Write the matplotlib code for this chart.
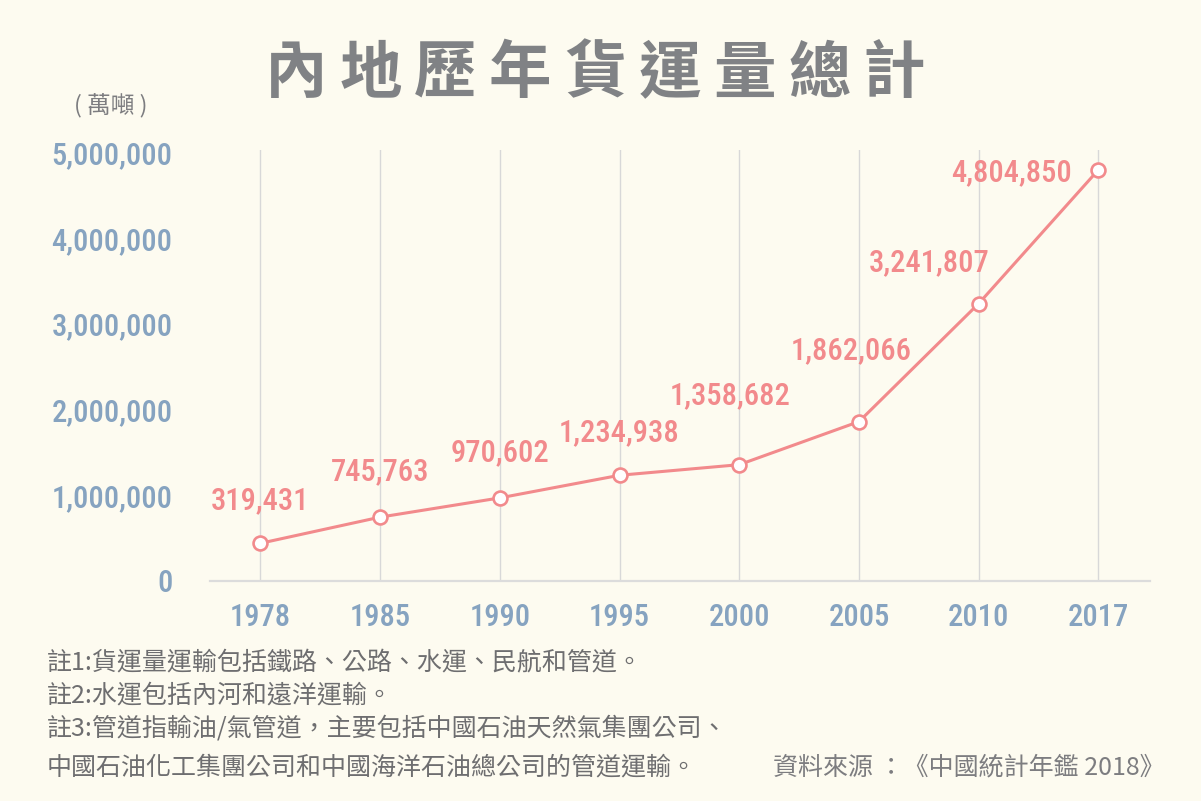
import numpy as np
import matplotlib.pyplot as plt

# datos
years = ['1978', '1985', '1990', '1995', '2000', '2005', '2010', '2017']
# posicion dibujada (el punto de 1978 en el original no cae en su valor)
plot_values = [440000, 745763, 970602, 1234938, 1358682, 1862066, 3241807, 4804850]
value_labels = ['319,431', '745,763', '970,602', '1,234,938', '1,358,682',
                '1,862,066', '3,241,807', '4,804,850']
yticks = [0, 1000000, 2000000, 3000000, 4000000, 5000000]
ytick_labels = ['0', '1,000,000', '2,000,000', '3,000,000', '4,000,000', '5,000,000']

title = '內地歷年貨運量總計'
notes = ['註1:貨運量運輸包括鐵路、公路、水運、民航和管道。',
         '註2:水運包括內河和遠洋運輸。',
         '註3:管道指輸油/氣管道，主要包括中國石油天然氣集團公司、',
         '中國石油化工集團公司和中國海洋石油總公司的管道運輸。']
source = '資料來源 ：《中國統計年鑑 2018》'

bg = '#fdfbf0'
pink = '#f28a8c'
blue = '#86a3c0'
gray = '#7d7d80'
num_font = ['Roboto Condensed', 'Roboto', 'DejaVu Sans']
cjk_font = ['Noto Sans CJK TC', 'DejaVu Sans']

fig = plt.figure(figsize=(12.01, 8.01), dpi=100, facecolor=bg)
ax = fig.add_axes([0.1749, 0.2747, 0.9575 - 0.1749, 0.8127 - 0.2747])
ax.set_facecolor(bg)

x = np.arange(len(years))
ax.plot(x, plot_values, color=pink, lw=2.2, marker='o', ms=10,
        mfc='white', mec=pink, mew=1.9, zorder=3, clip_on=False)

# desplazamientos de las etiquetas (en pixeles, se pasan a puntos)
offsets_px = [(0, 43), (0, 45), (0, 45), (0, 43), (-9, 69), (-8, 71), (-50, 41), (-87, -3)]
for i, (lab, off) in enumerate(zip(value_labels, offsets_px)):
    ax.annotate(lab, (x[i], plot_values[i]), xytext=(off[0] * 0.72, off[1] * 0.72),
                textcoords='offset points', ha='center', va='center', color=pink,
                fontsize=22, fontweight='medium', family=num_font)

ax.set_xlim(-0.42, 7.43)
ax.set_ylim(0, 5035000)
ax.set_xticks(x)
ax.set_xticklabels(years)
ax.set_yticks(yticks)
ax.set_yticklabels(ytick_labels)
ax.tick_params(length=0, colors=blue, labelsize=22)
ax.tick_params(axis='x', pad=16)
ax.tick_params(axis='y', pad=27)
for t in ax.get_xticklabels() + ax.get_yticklabels():
    t.set_family(num_font)
    t.set_fontweight('medium')

ax.grid(axis='x', color='#d8d8d8', lw=1)
ax.grid(axis='y', visible=False)
for s in ['top', 'right', 'left']:
    ax.spines[s].set_visible(False)
ax.spines['bottom'].set_color('#dcdcdc')
ax.spines['bottom'].set_linewidth(1.6)

# titulo, letra por letra
for k, ch in enumerate(title):
    fig.text((296 + k * 74.75) / 1201, 1 - 74 / 801, ch, ha='center', va='center',
             fontsize=45, fontweight='black', color='#808285', family=cjk_font)

fig.text(111 / 1201, 1 - 106 / 801, '( 萬噸 )', ha='center', va='center',
         fontsize=17, color=gray, family=cjk_font)

ys = [663, 695, 728, 767]
for line, yy in zip(notes, ys):
    fig.text(47 / 1201, 1 - yy / 801, line, ha='left', va='center',
             fontsize=18, color='#6e6e70', family=cjk_font)
fig.text(1165 / 1201, 1 - 767 / 801, source, ha='right', va='center',
         fontsize=18, color=gray, family=cjk_font)

plt.savefig('out.png', dpi=100, facecolor=bg)
